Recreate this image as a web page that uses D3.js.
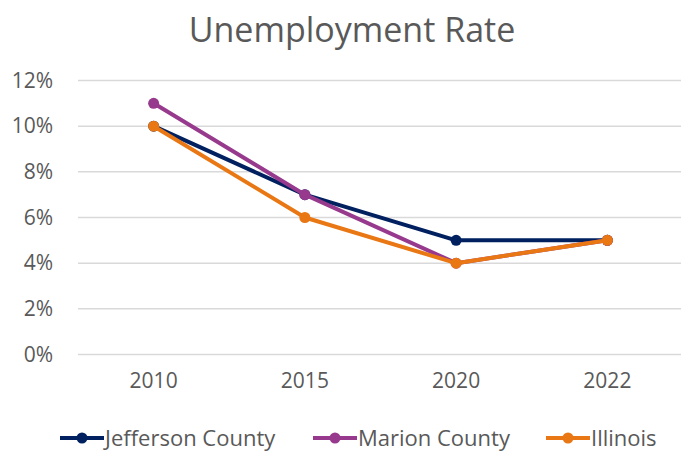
<!DOCTYPE html>
<html>
<head>
<meta charset="utf-8">
<script src="https://cdn.jsdelivr.net/npm/d3@7"></script>
<style>
  body { margin: 0; background: #fff; }
  text { font-family: "Open Sans", sans-serif; fill: #595959; }
</style>
</head>
<body>
<div id="chart"></div>
<script>
// data
var years = ["2010", "2015", "2020", "2022"];
var jefferson = [0.10, 0.07, 0.05, 0.05];
var marion = [0.11, 0.07, 0.04, 0.05];
var illinois = [0.10, 0.06, 0.04, 0.05];
var yTicks = [0, 0.02, 0.04, 0.06, 0.08, 0.10, 0.12];

var series = [
  {name: "Jefferson County", values: jefferson, color: "#002060"},
  {name: "Marion County", values: marion, color: "#973A8E"},
  {name: "Illinois", values: illinois, color: "#E97713"}
];

var width = 682, height = 451;
var margin = {top: 80, right: 0, bottom: 97, left: 78};

var svg = d3.select("#chart")
    .append("svg")
    .attr("width", width)
    .attr("height", height);

var x = d3.scaleBand()
    .domain(years)
    .range([margin.left, 683]);

var y = d3.scaleLinear()
    .domain([0, 0.12])
    .range([354.5, 80.5]);

// title
svg.append("text")
    .attr("x", 352)
    .attr("y", 42)
    .attr("text-anchor", "middle")
    .style("font-size", "34px")
    .text("Unemployment Rate");

// gridlines
svg.append("g")
    .selectAll("line")
    .data(yTicks)
    .join("line")
    .attr("x1", margin.left)
    .attr("x2", 681)
    .attr("y1", function(d) { return y(d); })
    .attr("y2", function(d) { return y(d); })
    .attr("stroke", "#d9d9d9")
    .attr("stroke-width", 1.5);

// y axis labels
var yAxis = d3.axisLeft(y)
    .tickValues(yTicks)
    .tickFormat(d3.format(".0%"))
    .tickSize(0)
    .tickPadding(0);

svg.append("g")
    .attr("transform", "translate(53,0)")
    .call(yAxis)
    .call(function(g) { g.select(".domain").remove(); })
    .selectAll("text")
    .style("font-size", "21px")
    .style("font-family", "'Open Sans', sans-serif")
    .attr("fill", "#595959");

// x axis labels
var xAxis = d3.axisBottom(x).tickSize(0).tickPadding(0);
svg.append("g")
    .attr("transform", "translate(0,373)")
    .call(xAxis)
    .call(function(g) { g.select(".domain").remove(); })
    .selectAll("text")
    .style("font-size", "21px")
    .style("font-family", "'Open Sans', sans-serif")
    .attr("fill", "#595959");

var cx = function(d, i) { return x(years[i]) + x.bandwidth() / 2; };

var line = d3.line()
    .x(cx)
    .y(function(d) { return y(d); });

series.forEach(function(s) {
  var g = svg.append("g");
  g.append("path")
      .datum(s.values)
      .attr("d", line)
      .attr("fill", "none")
      .attr("stroke", s.color)
      .attr("stroke-width", 4)
      .attr("stroke-linejoin", "round");
  g.selectAll("circle")
      .data(s.values)
      .join("circle")
      .attr("cx", cx)
      .attr("cy", function(d) { return y(d); })
      .attr("r", 5.5)
      .attr("fill", s.color);
});

// legend
var legendX = [60, 313, 546];
var legend = svg.append("g")
    .selectAll("g")
    .data(series)
    .join("g")
    .attr("transform", function(d, i) { return "translate(" + legendX[i] + ",438)"; });

legend.append("line")
    .attr("x1", 0).attr("x2", 44)
    .attr("stroke", function(d) { return d.color; })
    .attr("stroke-width", 4);
legend.append("circle")
    .attr("cx", 22).attr("r", 5.5)
    .attr("fill", function(d) { return d.color; });
legend.append("text")
    .attr("x", 45)
    .attr("dy", "0.35em")
    .style("font-size", "22px")
    .text(function(d) { return d.name; });
</script>
</body>
</html>
